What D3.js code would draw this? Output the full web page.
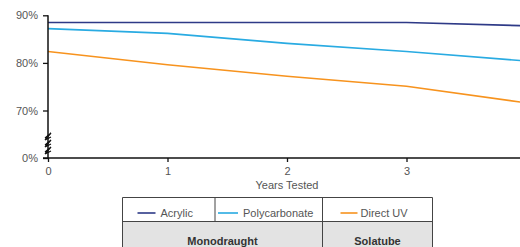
<!DOCTYPE html>
<html>
<head>
<meta charset="utf-8">
<script src="https://cdn.jsdelivr.net/npm/d3@7"></script>
<style>
  body { margin: 0; background: #fff; }
  svg { display: block; }
  text { font-family: "Liberation Sans", Arial, sans-serif; }
</style>
</head>
<body>
<script>
// data
var years = [0, 1, 2, 3, 4];
var acrylic = [88.5, 88.5, 88.5, 88.5, 87.8];
var polycarbonate = [87.2, 86.2, 84.1, 82.4, 80.4];
var directUV = [82.4, 79.6, 77.2, 75.1, 71.6];
var seriesNames = ["Acrylic", "Polycarbonate", "Direct UV"];
var seriesColors = ["#2e3a87", "#29abe2", "#f7931e"];
var yTicks = [0, 70, 80, 90];
var xTicks = [0, 1, 2, 3];
var groups = [{name: "Monodraught", span: 2}, {name: "Solatube", span: 1}];

var W = 520, H = 247;
var svg = d3.select("body").append("svg")
  .attr("width", W).attr("height", H);

// broken y scale: 0 then 70..90
var x = d3.scaleLinear().domain([0, 4]).range([48, 526]);
var y = d3.scaleLinear().domain([0, 70, 90]).range([158, 110.5, 15.3]);

var series = [acrylic, polycarbonate, directUV];

var line = d3.line()
  .x(function (d, i) { return x(years[i]); })
  .y(function (d) { return y(d); });

svg.append("g").selectAll("path")
  .data(series)
  .join("path")
  .attr("d", line)
  .attr("fill", "none")
  .attr("stroke", function (d, i) { return seriesColors[i]; })
  .attr("stroke-width", 1.6);

// axes
var yAxis = svg.append("g")
  .attr("transform", "translate(48,0)")
  .call(d3.axisLeft(y).tickValues(yTicks).tickSize(5).tickPadding(5)
    .tickFormat(function (d) { return d + "%"; }));
var xAxis = svg.append("g")
  .attr("transform", "translate(0,158)")
  .call(d3.axisBottom(x).tickValues(xTicks).tickSize(4).tickPadding(5)
    .tickFormat(d3.format("d")));

[yAxis, xAxis].forEach(function (a) {
  a.select(".domain").attr("stroke", "#111").attr("stroke-width", 1.5);
  a.selectAll(".tick line").attr("stroke", "#111").attr("stroke-width", 1.3);
  a.selectAll(".tick text").attr("fill", "#555").style("font-size", "11px");
});
yAxis.select(".domain").attr("d", "M0," + y(90) + "V" + y(0));
xAxis.select(".domain").attr("d", "M43,0H" + W);

// axis break zigzags
var zz = d3.path();
[133, 140, 147].forEach(function (yy) {
  zz.moveTo(45, yy + 5);
  zz.lineTo(51, yy);
  zz.lineTo(45, yy + 7);
  zz.lineTo(51, yy + 4);
});
svg.append("path").attr("d", zz.toString())
  .attr("fill", "none").attr("stroke", "#111").attr("stroke-width", 1.2);

svg.append("text")
  .attr("x", 287).attr("y", 189)
  .attr("text-anchor", "middle")
  .attr("fill", "#555").style("font-size", "11px")
  .text("Years Tested");

// legend table
var cols = [122.5, 215, 322.5, 432.5];
var rowTop = 197.5, rowMid = 221.5;
var leg = svg.append("g");

leg.append("rect")
  .attr("x", cols[0]).attr("y", rowMid)
  .attr("width", cols[3] - cols[0]).attr("height", 40)
  .attr("fill", "#e3e3e3");

leg.selectAll("line.it")
  .data(seriesNames)
  .join("line")
  .attr("class", "it")
  .attr("x1", function (d, i) { return cols[i] + [15, 3, 18][i]; })
  .attr("x2", function (d, i) { return cols[i] + [33, 23, 35][i]; })
  .attr("y1", 213).attr("y2", 213)
  .attr("stroke", function (d, i) { return seriesColors[i]; })
  .attr("stroke-width", 1.6);

leg.selectAll("text.it")
  .data(seriesNames)
  .join("text")
  .attr("class", "it")
  .attr("x", function (d, i) { return cols[i] + [38, 28, 38][i]; })
  .attr("y", 217)
  .attr("fill", "#555").style("font-size", "11px")
  .text(function (d) { return d; });

var gx = [cols[0], cols[2], cols[3]];
leg.selectAll("text.gr")
  .data(groups)
  .join("text")
  .attr("class", "gr")
  .attr("x", function (d, i) { return (gx[i] + gx[i + 1]) / 2; })
  .attr("y", 245)
  .attr("text-anchor", "middle")
  .attr("fill", "#333").style("font-size", "11px").style("font-weight", "bold")
  .text(function (d) { return d.name; });

var grid = d3.path();
grid.moveTo(cols[0], H); grid.lineTo(cols[0], rowTop); grid.lineTo(cols[3], rowTop); grid.lineTo(cols[3], H);
grid.moveTo(cols[0], rowMid); grid.lineTo(cols[3], rowMid);
grid.moveTo(cols[1], rowTop); grid.lineTo(cols[1], rowMid);
grid.moveTo(cols[2], rowTop); grid.lineTo(cols[2], H);
leg.append("path").attr("d", grid.toString())
  .attr("fill", "none").attr("stroke", "#444").attr("stroke-width", 1);
</script>
</body>
</html>
